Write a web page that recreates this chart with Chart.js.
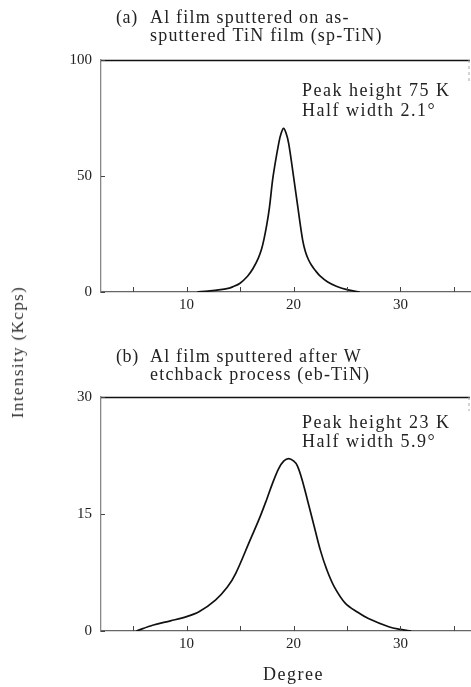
<!DOCTYPE html>
<html>
<head>
<meta charset="utf-8">
<script src="https://cdn.jsdelivr.net/npm/chart.js@4"></script>
<style>
  html, body { margin: 0; padding: 0; background: #fff; }
  #wrap { position: relative; width: 471px; height: 687px; overflow: hidden; }
  #boxA { position: absolute; left: 0; top: 0; width: 471px; height: 325px; }
  #boxB { position: absolute; left: 0; top: 325px; width: 471px; height: 362px; }
  #ylab {
    position: absolute; left: 18px; top: 352px;
    transform: translate(-50%, -50%) rotate(-90deg);
    white-space: nowrap; font: 17px 'Liberation Serif', serif; letter-spacing: 1.4px; color: #333;
  }
</style>
</head>
<body>
<div id="wrap">
  <div id="boxA"><canvas id="chartA"></canvas></div>
  <div id="boxB"><canvas id="chartB"></canvas></div>
  <div id="ylab">Intensity (Kcps)</div>
</div>
<script>
// (a) sp-TiN diffraction peak
const degA = [11, 12, 13, 14, 14.3, 15, 15.7, 16.2, 16.7, 17.0, 17.24, 17.5, 17.75, 18.09, 18.62, 18.85, 19.07, 19.3, 19.55, 20.0, 20.42, 20.85, 21.1, 21.4, 21.7, 22.0, 22.5, 23.2, 24.0, 25.0, 26.2];
const intA = [0, 0.4, 0.9, 1.7, 2.2, 3.8, 6.8, 10, 14.5, 18.3, 22.8, 29, 36.5, 49.8, 64.2, 68.5, 70.5, 68.5, 64, 49.8, 36, 22.5, 17.6, 13.9, 11.4, 9.5, 6.8, 4.3, 2.5, 1.0, 0];

// (b) eb-TiN diffraction peak
const degB = [5.3, 6.9, 8.5, 10, 11.2, 12.7, 13.8, 14.6, 15.8, 16.8, 17.5, 18.0, 18.6, 19.1, 19.55, 20.0, 20.35, 20.8, 21.3, 21.9, 22.5, 23.1, 23.8, 24.85, 26.0, 27.0, 28.9, 30.0, 31.0];
const intB = [0, 0.77, 1.3, 1.84, 2.5, 3.97, 5.6, 7.4, 11.2, 14.4, 16.9, 18.8, 20.8, 21.8, 22.1, 21.8, 21.2, 19.4, 16.8, 13.6, 10.4, 7.9, 5.7, 3.55, 2.4, 1.6, 0.55, 0.2, 0];

const xTicks = [5, 10, 15, 20, 25, 30, 35];
const xLabeled = [10, 20, 30];
const yTicksA = [0, 50, 100];
const yTicksB = [0, 15, 30];

const titleA = ['(a)', 'Al film sputtered on as-', 'sputtered TiN film (sp-TiN)'];
const titleB = ['(b)', 'Al film sputtered after W', 'etchback process (eb-TiN)'];
const noteA = ['Peak height 75 K', 'Half width 2.1°'];
const noteB = ['Peak height 23 K', 'Half width 5.9°'];
const xAxisName = 'Degree';

const SERIF = "'Liberation Serif', 'DejaVu Serif', serif";
const INK = '#222';

// frame lines, inward tick marks and the text blocks
const framePlugin = {
  id: 'frame',
  afterDraw(chart, args, o) {
    const ctx = chart.ctx;
    const { left, right, top, bottom } = chart.chartArea;
    const xs = chart.scales.x, ys = chart.scales.y;
    ctx.save();
    // top border
    ctx.strokeStyle = '#111';
    ctx.lineWidth = 1.3;
    ctx.beginPath(); ctx.moveTo(left, top + 0.5); ctx.lineTo(right, top + 0.5); ctx.stroke();
    // right border, faint dashes
    ctx.strokeStyle = '#aaa';
    ctx.lineWidth = 1;
    ctx.setLineDash([3, 3]);
    ctx.beginPath(); ctx.moveTo(right - 1, top); ctx.lineTo(right - 1, top + o.rightLen); ctx.stroke();
    ctx.setLineDash([]);
    // inward ticks
    ctx.strokeStyle = '#444';
    xTicks.forEach(v => {
      const px = Math.round(xs.getPixelForValue(v)) + 0.5;
      ctx.beginPath(); ctx.moveTo(px, bottom); ctx.lineTo(px, bottom - 5); ctx.stroke();
    });
    o.yTicks.forEach(v => {
      const py = Math.round(ys.getPixelForValue(v)) + 0.5;
      ctx.beginPath(); ctx.moveTo(left, py); ctx.lineTo(left + 4, py); ctx.stroke();
    });
    // headings and notes
    ctx.fillStyle = INK;
    ctx.textBaseline = 'alphabetic';
    ctx.textAlign = 'left';
    ctx.font = '18px ' + SERIF;
    ctx.letterSpacing = '0.6px';
    ctx.fillText(o.title[0], 116, o.titleY[0]);
    ctx.letterSpacing = '1.2px';
    ctx.fillText(o.title[1], 150, o.titleY[0]);
    ctx.fillText(o.title[2], 150, o.titleY[1]);
    ctx.letterSpacing = '1.5px';
    ctx.fillText(o.note[0], 302, o.noteY[0]);
    ctx.fillText(o.note[1], 302, o.noteY[1]);
    if (o.axisName) {
      ctx.textAlign = 'center';
      ctx.fillText(o.axisName, xs.getPixelForValue(20), o.axisNameY);
    }
    ctx.restore();
  }
};

function makeChart(id, xs, ys, yTicks, yMax, opts) {
  const pts = xs.map((x, i) => ({ x, y: ys[i] }));
  return new Chart(document.getElementById(id), {
    type: 'line',
    data: {
      datasets: [{
        data: pts,
        borderColor: '#111',
        borderWidth: 1.7,
        pointRadius: 0,
        tension: 0.35,
        fill: false
      }]
    },
    options: {
      responsive: true,
      maintainAspectRatio: false,
      animation: false,
      layout: { padding: { top: opts.padTop, right: 1, left: 0, bottom: 0 } },
      plugins: {
        legend: { display: false },
        tooltip: { enabled: false },
        frame: opts.frame
      },
      scales: {
        x: {
          type: 'linear',
          min: 2,
          max: 36.5,
          afterBuildTicks: s => { s.ticks = xTicks.map(v => ({ value: v })); },
          afterFit: s => { s.height = opts.xHeight; },
          grid: { display: false, drawTicks: false },
          border: { display: true, color: '#666', width: 1.3 },
          ticks: {
            padding: 4,
            color: INK,
            font: { family: SERIF, size: 15 },
            maxRotation: 0,
            autoSkip: false,
            callback: v => xLabeled.includes(v) ? String(v) : ''
          }
        },
        y: {
          min: 0,
          max: yMax,
          afterBuildTicks: s => { s.ticks = yTicks.map(v => ({ value: v })); },
          afterFit: s => { s.width = 101; },
          grid: { display: false, drawTicks: false },
          border: { display: true, color: '#888', width: 1.3 },
          ticks: {
            padding: 9,
            color: INK,
            font: { family: SERIF, size: 15 }
          }
        }
      }
    },
    plugins: [framePlugin]
  });
}

makeChart('chartA', degA, intA, yTicksA, 100, {
  padTop: 60,
  xHeight: 33,
  frame: { title: titleA, titleY: [23, 41], note: noteA, noteY: [96, 116], yTicks: yTicksA, rightLen: 22 }
});

makeChart('chartB', degB, intB, yTicksB, 30, {
  padTop: 72,
  xHeight: 56,
  frame: {
    title: titleB, titleY: [37, 55], note: noteB, noteY: [103, 122], yTicks: yTicksB, rightLen: 14,
    axisName: xAxisName, axisNameY: 355
  }
});
</script>
</body>
</html>
